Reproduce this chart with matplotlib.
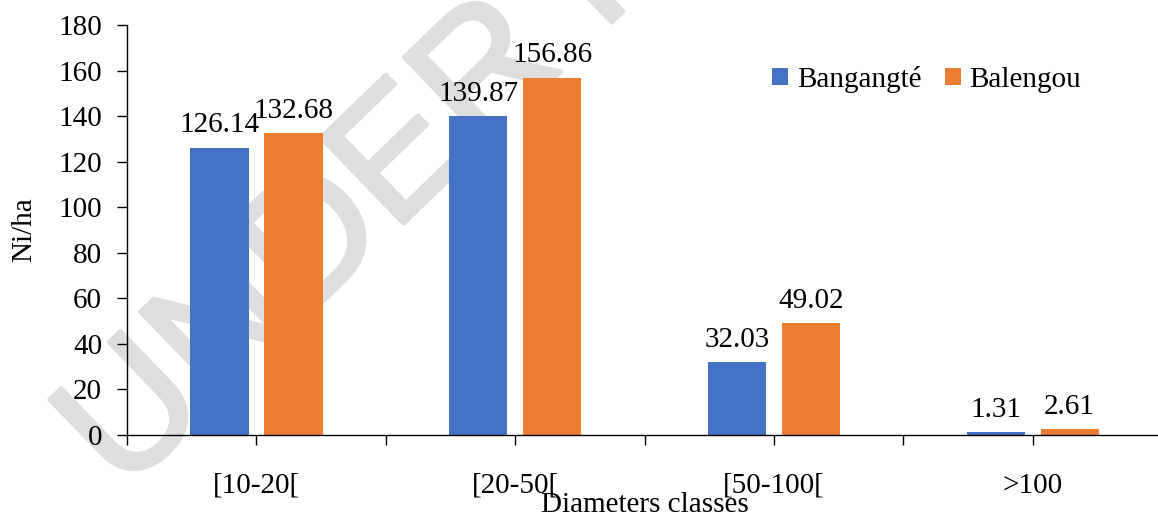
#plot.py
#Bar chart of Ni/ha by diameter class for Bangangté and Balengou

import matplotlib.pyplot as plt
import matplotlib.patheffects as pe
import numpy as np

#data
categories = ["[10-20[", "[20-50[", "[50-100[", ">100"]
bangangte = [126.14, 139.87, 32.03, 1.31]
balengou = [132.68, 156.86, 49.02, 2.61]
series_names = ["Bangangté", "Balengou"]

plt.rcParams["font.family"] = ["Liberation Serif", "DejaVu Serif"]
fs = 21

fig = plt.figure(figsize=(11.58, 5.17), dpi=100)
ax = fig.add_axes([0.1097, 0.1586, 0.8938, 0.793])
ax.patch.set_alpha(0)

#watermark behind the chart
wm = fig.text(0.106, 0.043, "UNDER PEER REVIEW", fontsize=125, color="#dedede",
              family=["Liberation Sans Narrow", "Liberation Sans"],
              rotation=44, rotation_mode="anchor", ha="left", va="baseline", zorder=-1)
wm.set_path_effects([pe.withStroke(linewidth=3, foreground="#dedede")])

x = np.arange(len(categories))
w = 0.225
off = 0.143
b1 = ax.bar(x - off, bangangte, w, color="#4472C4", label=series_names[0], zorder=2)
b2 = ax.bar(x + off, balengou, w, color="#ED7D31", label=series_names[1], zorder=2)

#data labels
for bars in (b1, b2):
    for r in bars:
        h = r.get_height()
        ax.annotate("{:.2f}".format(h), (r.get_x() + r.get_width() / 2, h),
                    xytext=(0, 11), textcoords="offset points",
                    ha="center", va="baseline", fontsize=fs)

#axes
ax.set_xlim(-0.5, 3.5)
ax.set_ylim(0, 180)
ax.set_yticks(range(0, 181, 20))
ax.set_xticks(x)
ax.set_xticklabels(categories)
ax.set_xticks(np.arange(-0.5, 3.6, 1), minor=True)
ax.tick_params(axis="y", labelsize=fs, length=7, width=1, pad=11)
ax.tick_params(axis="x", which="both", labelsize=fs, length=7, width=1, pad=20)
for s in ["top", "right"]:
    ax.spines[s].set_visible(False)
for s in ["left", "bottom"]:
    ax.spines[s].set_linewidth(1)

ax.set_ylabel("Ni/ha", fontsize=fs, labelpad=15)
ax.set_xlabel("Diameters classes", fontsize=fs, labelpad=-5)

#legend
ax.legend(loc="center left", bbox_to_anchor=(0.598, 0.868), ncol=2, frameon=False,
          fontsize=fs, handlelength=0.55, handleheight=0.55, handletextpad=0.3,
          columnspacing=0.8)

plt.savefig("out.png", dpi=100)
